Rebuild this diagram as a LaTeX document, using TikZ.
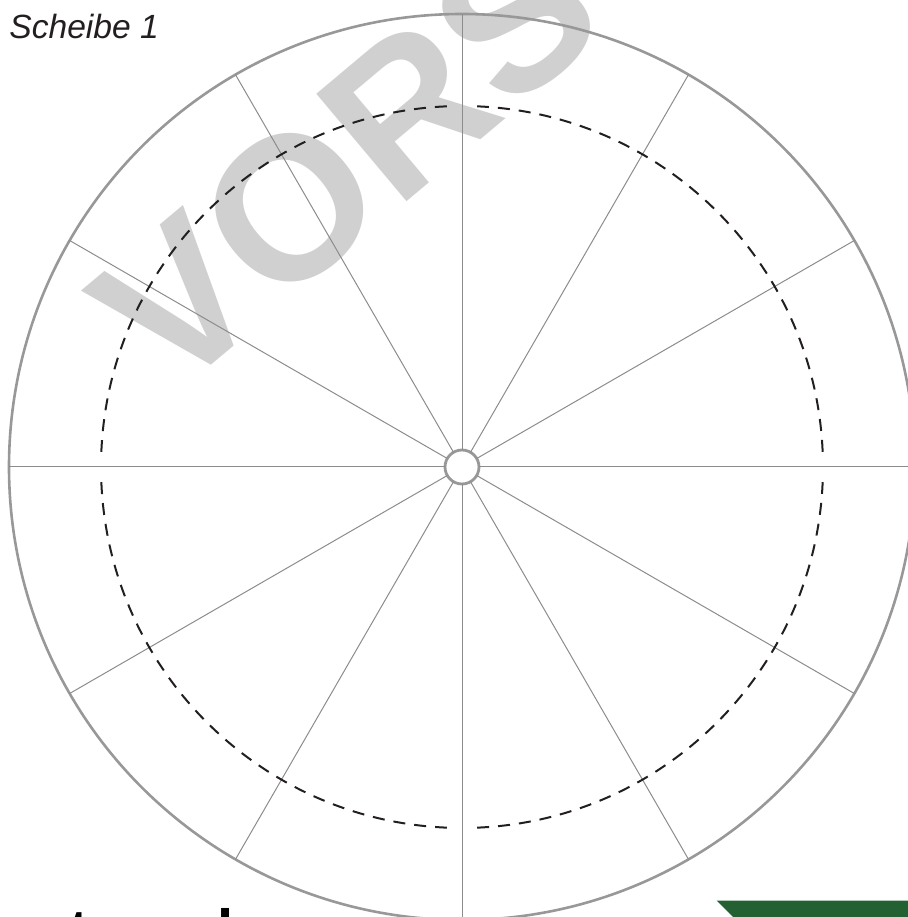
\documentclass[tikz,border=0pt]{standalone}
\usepackage{fontspec}
\setmainfont{Liberation Sans}
\usepackage{tikz}
\usetikzlibrary{positioning}
\definecolor{rimgray}{RGB}{152,152,152}
\definecolor{spokegray}{RGB}{140,140,140}
\definecolor{markgray}{RGB}{208,208,208}
\definecolor{mydark}{RGB}{35,31,32}
\definecolor{mygreen}{RGB}{35,97,51}
\tikzset{
  rim/.style={circle, draw=rimgray, line width=1.3pt,
    minimum size=453pt, inner sep=0pt, outer sep=0pt},
  hub/.style={circle, draw=rimgray, line width=1.4pt, fill=white,
    minimum size=17pt, inner sep=0pt, outer sep=0pt},
  spoke/.style={draw=spokegray, line width=0.5pt},
  guide/.style={draw=mydark, line width=1pt, dash pattern=on 6pt off 4.5pt},
  watermark/.style={text=markgray, inner sep=0pt,
    font=\fontsize{102}{102}\selectfont\bfseries},
  title/.style={text=mydark, inner sep=0pt,
    font=\fontsize{16.8}{20}\selectfont\itshape},
  logotext/.style={text=black, inner sep=0pt,
    font=\fontsize{29}{29}\selectfont\bfseries}
}

\begin{document}
\begin{tikzpicture}[x=0.5pt, y=0.5pt]
  \useasboundingbox (0,0) rectangle (908,917);
  \clip (0,0) rectangle (908,917);

  % Watermark behind everything
  \node[watermark, rotate=40, anchor=base west] (mark) at (170,517) {VORSCHAU};

  % Disc and hub
  \node[rim] (disc) at (462,450) {};
  \node[hub] (hub) at (462,450) {};

  % Twelve spokes
  \foreach \a in {0,30,...,330} {
    \draw[spoke] (hub.\a) -- (disc.\a);
  }

  % Dashed guide ring, one quarter at a time
  \foreach \a in {0,90,180,270} {
    \draw[guide] (hub.center) ++(\a+2.4:361)
      arc[start angle=\a+2.4, end angle=\a+87.6, radius=361];
  }

  % Title and footer
  \node[title, anchor=base west] (caption) at (9,878) {Scheibe 1};
  \node[logotext, anchor=base west] (logo) at (1,-33) {netzwerk};
  \fill[mygreen] (716.7,16.3) -- (908,16.3) -- (908,0) -- (733,0) -- cycle;
\end{tikzpicture}
\end{document}
